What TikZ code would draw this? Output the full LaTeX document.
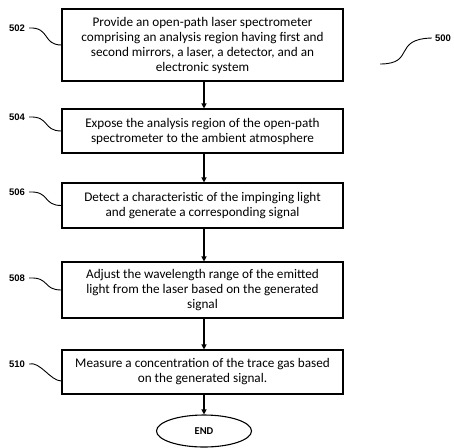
\documentclass[tikz,border=0pt]{standalone}
\usepackage{fontspec}
\setmainfont{Carlito}
\newfontfamily\labelfont{Liberation Sans}
\usetikzlibrary{arrows.meta,shapes.geometric}
\begin{document}
\begin{tikzpicture}[x=1pt,y=-1pt,
  stepbox/.style={draw,line width=1.1pt,minimum width=281pt,inner sep=0pt,align=center,font=\fontsize{13.2}{15}\selectfont},
  reflabel/.style={font=\labelfont\fontsize{9.5}{11}\selectfont\bfseries,inner sep=0pt},
  flow/.style={line width=1.1pt,-{Triangle[length=5pt,width=5pt]}},
  squig/.style={line width=0.9pt}]
\useasboundingbox (0,0) rectangle (454,447);
\node[stepbox,minimum height=72pt] (b502) at (202.5,45) {Provide an open-path laser spectrometer\\comprising an analysis region having first and\\second mirrors, a laser, a detector, and an\\electronic system};
\node[stepbox,minimum height=44pt] (b504) at (202.5,131) {Expose the analysis region of the open-path\\spectrometer to the ambient atmosphere};
\node[stepbox,minimum height=45pt] (b506) at (202.5,205.5) {Detect a characteristic of the impinging light\\and generate a corresponding signal};
\node[stepbox,minimum height=56pt] (b508) at (202.5,290) {Adjust the wavelength range of the emitted\\light from the laser based on the generated\\signal};
\node[stepbox,minimum height=44pt] (b510) at (202.5,372) {Measure a concentration of the trace gas based\\on the generated signal.};
\node[draw,line width=1.1pt,ellipse,minimum width=95pt,minimum height=32pt,inner sep=0pt,font=\fontsize{10.5}{12}\selectfont\bfseries] (end) at (204,431) {END};
\draw[flow] (b502.south -| end) -- (b504.north -| end);
\draw[flow] (b504.south -| end) -- (b506.north -| end);
\draw[flow] (b506.south -| end) -- (b508.north -| end);
\draw[flow] (b508.south -| end) -- (b510.north -| end);
\draw[flow] (b510.south -| end) -- (end.north);
\node[reflabel] (l502) at (17,28) {502};
\node[reflabel] (l504) at (17,117) {504};
\node[reflabel] (l506) at (17,192) {506};
\node[reflabel] (l508) at (17,278) {508};
\node[reflabel] (l510) at (17,364) {510};
\node[reflabel] (l500) at (443,38) {500};
\draw[squig] ([xshift=4pt]l502.east) .. controls +(21,-1) and +(-19,0) .. (b502.west);
\draw[squig] ([xshift=4pt]l504.east) .. controls +(21,-1) and +(-19,0) .. (b504.west);
\draw[squig] ([xshift=4pt]l506.east) .. controls +(21,-1) and +(-19,0) .. (b506.west);
\draw[squig] ([xshift=4pt]l508.east) .. controls +(21,-1) and +(-19,0) .. (b508.west);
\draw[squig] ([xshift=4pt]l510.east) .. controls +(11,-3) and +(-11,0) .. ([yshift=-9pt]b510.west);
\draw[squig] ([xshift=-3pt]l500.west) .. controls +(-40,1) and +(36,0) .. (380,64);
\end{tikzpicture}
\end{document}
